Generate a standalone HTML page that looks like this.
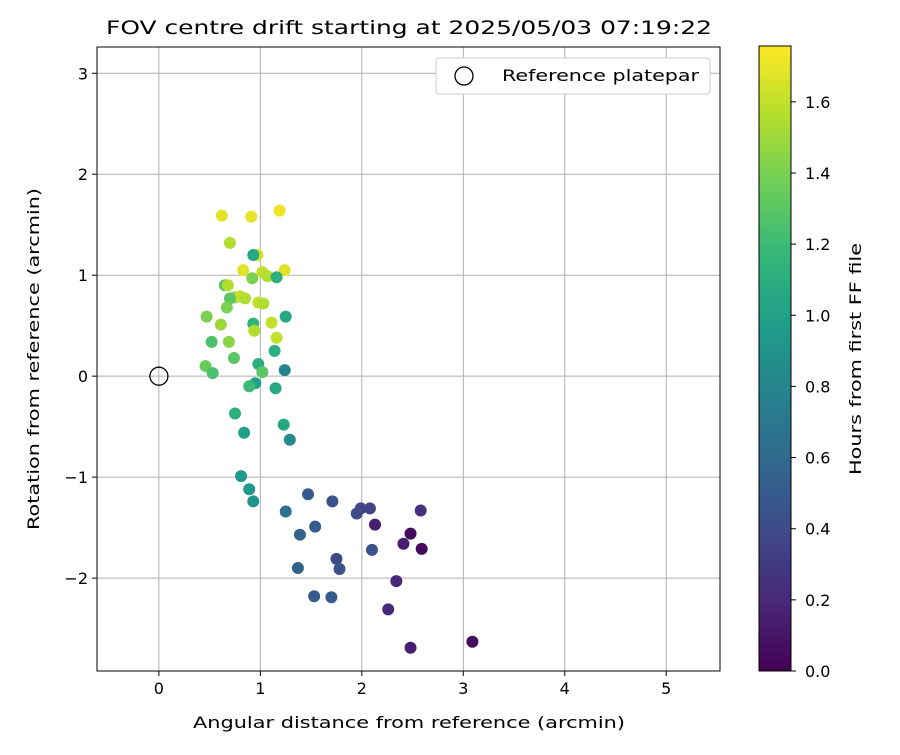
<!DOCTYPE html>
<html><head><meta charset="utf-8"><style>
body{margin:0;background:#fff}
svg{font-family:"DejaVu Sans","Liberation Sans",sans-serif}
</style></head><body>
<svg id="chart" width="900" height="750" viewBox="0 0 900 750">
<rect width="900" height="750" fill="#fff"/>
<text x="409" y="34" font-size="19" text-anchor="middle" textLength="606" lengthAdjust="spacingAndGlyphs">FOV centre drift starting at 2025/05/03 07:19:22</text>
<g id="grid"></g>
<g id="axes"></g>
<g id="points"></g>
<rect x="97" y="47" width="623" height="624" fill="none" stroke="#000" stroke-width="1"/>
<text x="409" y="728" font-size="16" text-anchor="middle" textLength="432" lengthAdjust="spacingAndGlyphs">Angular distance from reference (arcmin)</text>
<text transform="translate(39,359) rotate(-90)" font-size="16" text-anchor="middle" textLength="342" lengthAdjust="spacingAndGlyphs">Rotation from reference (arcmin)</text>
<g>
<rect x="436" y="58" width="274" height="36" rx="3" fill="#fff" stroke="#ccc"/>
<circle cx="464" cy="76" r="9" fill="none" stroke="#000" stroke-width="1.3"/>
<text x="502" y="81" font-size="16" textLength="197" lengthAdjust="spacingAndGlyphs">Reference platepar</text>
</g>
<defs><linearGradient id="vir" x1="0" y1="1" x2="0" y2="0"></linearGradient></defs>
<rect x="759" y="46" width="32" height="625" fill="url(#vir)" stroke="#000" stroke-width="1"/>
<g id="cbticks"></g>
<text transform="translate(861,359) rotate(-90)" font-size="16" text-anchor="middle" textLength="232" lengthAdjust="spacingAndGlyphs">Hours from first FF file</text>
</svg>
<script>
const xs=[0.62,0.91,1.19,0.70,0.97,0.93,0.83,1.24,1.02,1.07,0.92,1.16,0.65,0.68,0.75,0.80,0.85,0.70,0.67,0.98,1.03,0.47,1.25,1.11,0.61,0.93,0.94,1.16,0.52,0.69,1.14,0.74,0.98,0.46,0.53,1.02,1.24,0.95,0.89,1.15,0.75,1.23,0.84,1.29,0.81,0.89,0.93,1.25,1.47,1.71,1.99,2.08,1.95,2.58,1.39,1.54,2.13,2.48,2.41,2.10,2.59,1.75,1.78,1.37,2.34,1.53,1.70,2.26,3.09,2.48];
const ys=[1.59,1.58,1.64,1.32,1.20,1.20,1.05,1.05,1.03,0.99,0.97,0.98,0.90,0.90,0.78,0.79,0.77,0.77,0.68,0.73,0.72,0.59,0.59,0.53,0.51,0.52,0.45,0.38,0.34,0.34,0.25,0.18,0.12,0.10,0.03,0.04,0.06,-0.07,-0.10,-0.12,-0.37,-0.48,-0.56,-0.63,-0.99,-1.12,-1.24,-1.34,-1.17,-1.24,-1.31,-1.31,-1.36,-1.33,-1.57,-1.49,-1.47,-1.56,-1.66,-1.72,-1.71,-1.81,-1.91,-1.90,-2.03,-2.18,-2.19,-2.31,-2.63,-2.69];
const hours=[1.68,1.70,1.72,1.55,1.62,1.05,1.68,1.68,1.60,1.55,1.40,1.10,1.30,1.55,1.45,1.60,1.55,1.30,1.40,1.60,1.55,1.40,1.05,1.60,1.50,1.15,1.55,1.60,1.25,1.45,1.10,1.30,1.10,1.35,1.25,1.30,0.80,1.00,1.20,1.05,1.10,1.05,1.00,0.85,0.95,0.95,0.90,0.65,0.50,0.45,0.35,0.35,0.40,0.25,0.55,0.50,0.15,0.05,0.15,0.45,0.03,0.40,0.45,0.55,0.20,0.50,0.50,0.20,0.05,0.15];
const xTicks=[0,1,2,3,4,5];
const yTicks=[-2,-1,0,1,2,3];
const cTicks=[0,0.2,0.4,0.6,0.8,1.0,1.2,1.4,1.6];
const xMin=-0.61,xMax=5.53,yMin=-2.92,yMax=3.26,cMax=1.757;
const X=v=>97+(v-xMin)/(xMax-xMin)*623;
const Y=v=>671-(v-yMin)/(yMax-yMin)*624;
const C=v=>671-v/cMax*625;
const vstops=[[68,1,84],[72,40,120],[62,74,137],[49,104,142],[38,130,142],[31,158,137],[53,183,121],[109,205,89],[180,222,44],[253,231,37]];
function vir(t){t=Math.max(0,Math.min(1,t));const p=t*9,i=Math.min(8,Math.floor(p)),f=p-i;const a=vstops[i],b=vstops[i+1];return `rgb(${a.map((c,k)=>Math.round(c+(b[k]-c)*f)).join(',')})`;}
const NS="http://www.w3.org/2000/svg";
function mk(tag,attrs,parent){const e=document.createElementNS(NS,tag);for(const k in attrs)e.setAttribute(k,attrs[k]);parent.appendChild(e);return e;}
const grid=document.getElementById('grid'),axes=document.getElementById('axes'),pts=document.getElementById('points');
xTicks.forEach(t=>{
 const l=mk('line',{x1:X(t),x2:X(t),y1:47,y2:671,stroke:'#b0b0b0','stroke-width':1},grid);
 
 
 const k=mk('line',{x1:X(t),x2:X(t),y1:671,y2:676,stroke:'#000'},axes);
 
 
 const tx=mk('text',{x:X(t),y:694,'font-size':16,'text-anchor':'middle'},axes);tx.textContent=t;
 
 
});
yTicks.forEach(t=>{
 const l=mk('line',{x1:97,x2:720,y1:Y(t),y2:Y(t),stroke:'#b0b0b0','stroke-width':1},grid);
 
 
 const k=mk('line',{x1:92,x2:97,y1:Y(t),y2:Y(t),stroke:'#000'},axes);
 
 
 const tx=mk('text',{x:88,y:Y(t)+6,'font-size':16,'text-anchor':'end'},axes);tx.textContent=t<0?'\u2212'+(-t):t;
 
 
});
xs.forEach((x,i)=>{
 const c=mk('circle',{cx:X(x),cy:Y(ys[i]),r:6,fill:vir(hours[i]/cMax)},pts);
 
 
});
const ref=mk('circle',{cx:X(0),cy:Y(0),r:9,fill:'none',stroke:'#000','stroke-width':1.3},pts);


const g=document.getElementById('vir');
vstops.forEach((s,i)=>mk('stop',{offset:(i/9),'stop-color':`rgb(${s.join(',')})`},g));
const cb=document.getElementById('cbticks');
cTicks.forEach(t=>{
 const k=mk('line',{x1:791,x2:796,y1:C(t),y2:C(t),stroke:'#000'},cb);
 
 
 const tx=mk('text',{x:805,y:C(t)+6,'font-size':16},cb);tx.textContent=t.toFixed(1);
 
 
});
</script>
</body></html>
